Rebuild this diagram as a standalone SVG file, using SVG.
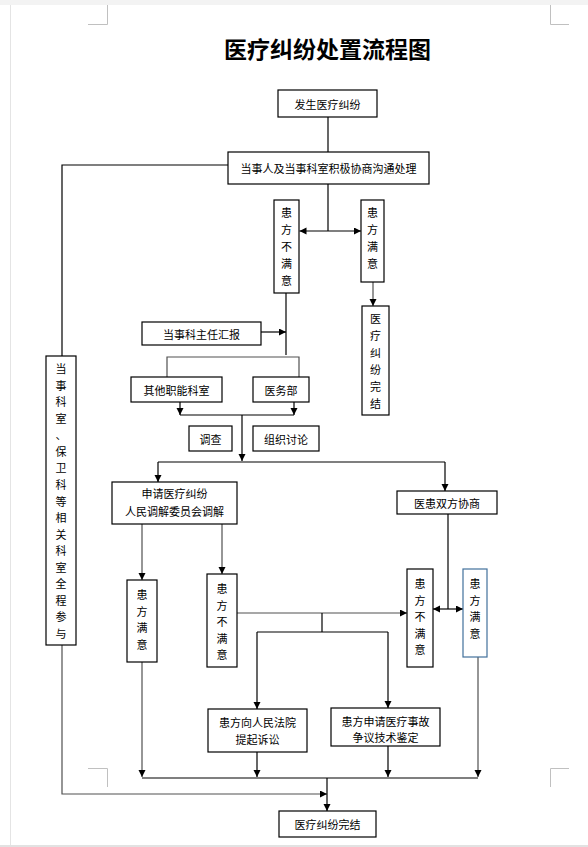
<svg xmlns="http://www.w3.org/2000/svg" width="588" height="847" viewBox="0 0 588 847">
<style>
text{font-family:"Noto Sans CJK SC","Liberation Sans",sans-serif;font-size:11px;fill:#000;text-anchor:middle;dominant-baseline:central}
.title{font-size:23px;font-weight:bold}
.box{fill:#fff;stroke:#000;stroke-width:1.2}
.blue{stroke:#41719c}
.ln{fill:none;stroke:#000;stroke-width:1.2}
.gr{stroke:#505050}
.a{marker-end:url(#ah)}
.b{marker-start:url(#ah);marker-end:url(#ah)}
.crn{fill:none;stroke:#c0c0c0;stroke-width:1}
</style>
<defs>
<marker id="ah" markerUnits="userSpaceOnUse" markerWidth="8" markerHeight="8" refX="7" refY="3.5" orient="auto-start-reverse">
<path d="M0,0 L7,3.5 L0,7 z" fill="#000"/>
</marker>
</defs>
<rect x="0" y="0" width="588" height="847" fill="#fff"/>
<rect x="0" y="0" width="588" height="5" fill="#f3f3f3"/>
<rect x="0" y="845" width="588" height="2" fill="#e2e2e2"/>
<line x1="10.5" y1="5" x2="10.5" y2="845" stroke="#e4e4e4" stroke-width="1"/>
<g id="corners">
<path class="crn" d="M88,24.5 H107.5 V5"/>
<path class="crn" d="M550.5,5 V24.5 H569"/>
<path class="crn" d="M88,768.5 H107.5 V787"/>
<path class="crn" d="M569,768.5 H550.5 V787"/>
</g>
<text class="title" x="327.5" y="47.5">医疗纠纷处置流程图</text>

<g id="connectors">
<path class="ln" d="M328,117 V152"/>
<path class="ln" d="M228,165 H62 V356"/>
<path class="ln gr a" d="M62,645 V794 H327"/>
<path class="ln" d="M328,184 V231"/>
<path class="ln b" d="M299.5,231 H361"/>
<path class="ln gr a" d="M373,282 V306"/>
<path class="ln" d="M286,293 V355"/>
<path class="ln a" d="M261,332 H286"/>
<path class="ln gr" d="M167,377 V357 H299 V377"/>
<path class="ln a" d="M180,402 V415"/>
<path class="ln a" d="M294,402 V415"/>
<path class="ln" d="M180,415 H294"/>
<path class="ln a" d="M242,415 V461"/>
<path class="ln" d="M158,462 H445"/>
<path class="ln a" d="M158,462 V482"/>
<path class="ln a" d="M445,462 V491"/>
<path class="ln gr a" d="M142,524 V580"/>
<path class="ln gr a" d="M222,524 V574"/>
<path class="ln gr a" d="M237,613 H407"/>
<path class="ln" d="M322,613 V632"/>
<path class="ln" d="M257,632 H388"/>
<path class="ln a" d="M257,632 V709"/>
<path class="ln a" d="M388,632 V708"/>
<path class="ln" d="M448,514 V609"/>
<path class="ln b" d="M433,609 H463"/>
<path class="ln gr a" d="M142,662 V777"/>
<path class="ln a" d="M257,752 V777"/>
<path class="ln a" d="M388,746 V777"/>
<path class="ln gr a" d="M478,657 V777"/>
<path class="ln" d="M142,778 H478"/>
<path class="ln a" d="M327,778 V811"/>
</g>

<g id="n_start"><rect class="box" x="278" y="90" width="99" height="27"/><text x="327.5" y="103.5">发生医疗纠纷</text></g>
<g id="n_negotiate"><rect class="box" x="228" y="152" width="201" height="32"/><text x="328.5" y="168">当事人及当事科室积极协商沟通处理</text></g>
<g id="n_unsat1"><rect class="box" x="274" y="200" width="25" height="93"/>
<text x="286.5" y="212"><tspan x="286.5" y="212">患</tspan><tspan x="286.5" y="229">方</tspan><tspan x="286.5" y="246">不</tspan><tspan x="286.5" y="263">满</tspan><tspan x="286.5" y="280">意</tspan></text></g>
<g id="n_sat1"><rect class="box" x="361" y="200" width="23" height="82"/>
<text x="372.5" y="212"><tspan x="372.5" y="212">患</tspan><tspan x="372.5" y="229">方</tspan><tspan x="372.5" y="246">满</tspan><tspan x="372.5" y="263">意</tspan></text></g>
<g id="n_end1"><rect class="box" x="362" y="306" width="27" height="109"/>
<text x="375.5" y="318"><tspan x="375.5" y="318">医</tspan><tspan x="375.5" y="335">疗</tspan><tspan x="375.5" y="352">纠</tspan><tspan x="375.5" y="369">纷</tspan><tspan x="375.5" y="386">完</tspan><tspan x="375.5" y="403">结</tspan></text></g>
<g id="n_report"><rect class="box" x="142" y="322" width="119" height="23"/><text x="201.5" y="333.5">当事科主任汇报</text></g>
<g id="n_other"><rect class="box" x="131" y="377" width="91" height="25"/><text x="176.5" y="389.5">其他职能科室</text></g>
<g id="n_medical"><rect class="box" x="253" y="377" width="56" height="25"/><text x="281" y="389.5">医务部</text></g>
<g id="n_investigate"><rect class="box" x="189" y="426" width="43" height="25"/><text x="210.5" y="438.5">调查</text></g>
<g id="n_discuss"><rect class="box" x="253" y="426" width="66" height="25"/><text x="286" y="438.5">组织讨论</text></g>
<g id="n_side"><rect class="box" x="46" y="356" width="30" height="289"/>
<text x="61" y="368"><tspan x="61" y="368">当</tspan><tspan x="61" y="384.6">事</tspan><tspan x="61" y="401.1">科</tspan><tspan x="61" y="417.7">室</tspan><tspan x="61" y="434.2">、</tspan><tspan x="61" y="450.8">保</tspan><tspan x="61" y="467.4">卫</tspan><tspan x="61" y="483.9">科</tspan><tspan x="61" y="500.5">等</tspan><tspan x="61" y="517">相</tspan><tspan x="61" y="533.6">关</tspan><tspan x="61" y="550.2">科</tspan><tspan x="61" y="566.7">室</tspan><tspan x="61" y="583.3">全</tspan><tspan x="61" y="599.8">程</tspan><tspan x="61" y="616.4">参</tspan><tspan x="61" y="633">与</tspan></text></g>
<g id="n_mediation"><rect class="box" x="112" y="482" width="125" height="42"/><text x="174.5" y="493">申请医疗纠纷</text><text x="174.5" y="511">人民调解委员会调解</text></g>
<g id="n_both"><rect class="box" x="397" y="491" width="100" height="23"/><text x="447" y="503">医患双方协商</text></g>
<g id="n_sat2"><rect class="box" x="127" y="580" width="30" height="82"/>
<text x="142" y="594"><tspan x="142" y="594">患</tspan><tspan x="142" y="610.5">方</tspan><tspan x="142" y="627">满</tspan><tspan x="142" y="643.5">意</tspan></text></g>
<g id="n_unsat2"><rect class="box" x="207" y="574" width="30" height="93"/>
<text x="222" y="588"><tspan x="222" y="588">患</tspan><tspan x="222" y="604.5">方</tspan><tspan x="222" y="621">不</tspan><tspan x="222" y="637.5">满</tspan><tspan x="222" y="654">意</tspan></text></g>
<g id="n_unsat3"><rect class="box" x="407" y="569" width="26" height="98"/>
<text x="420" y="583"><tspan x="420" y="583">患</tspan><tspan x="420" y="599.5">方</tspan><tspan x="420" y="616">不</tspan><tspan x="420" y="632.5">满</tspan><tspan x="420" y="649">意</tspan></text></g>
<g id="n_sat3"><rect class="box blue" x="463" y="569" width="24" height="88"/>
<text x="475" y="583"><tspan x="475" y="583">患</tspan><tspan x="475" y="599.5">方</tspan><tspan x="475" y="616">满</tspan><tspan x="475" y="632.5">意</tspan></text></g>
<g id="n_court"><rect class="box" x="208" y="709" width="99" height="43"/><text x="257.5" y="722">患方向人民法院</text><text x="257.5" y="739">提起诉讼</text></g>
<g id="n_appraisal"><rect class="box" x="331" y="708" width="109" height="38"/><text x="385.5" y="721">患方申请医疗事故</text><text x="385.5" y="737">争议技术鉴定</text></g>
<g id="n_end2"><rect class="box" x="279" y="811" width="97" height="26"/><text x="327.5" y="824">医疗纠纷完结</text></g>
</svg>
